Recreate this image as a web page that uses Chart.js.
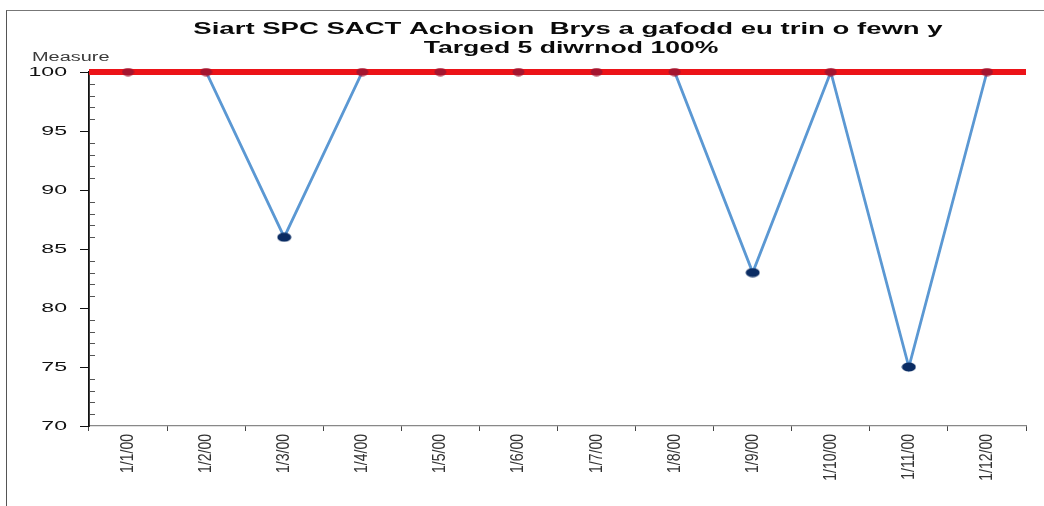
<!DOCTYPE html>
<html>
<head>
<meta charset="utf-8">
<script src="https://cdn.jsdelivr.net/npm/chart.js@4"></script>
<style>
  html, body { margin:0; padding:0; background:#fff; }
  #wrap { position:relative; width:1044px; height:506px; }
  #frame { position:absolute; left:6px; top:10px; right:0; bottom:0; border-left:1px solid #555; border-top:1px solid #777; pointer-events:none; }
  canvas { position:absolute; left:0; top:0; }
</style>
</head>
<body>
<div id="wrap">
  <canvas id="c" width="1044" height="506"></canvas>
  <div id="frame"></div>
</div>
<script>
const titleLines = ["Siart SPC SACT Achosion  Brys a gafodd eu trin o fewn y", "Targed 5 diwrnod 100%"];
const yAxisLabel = "Measure";
const categories = ["1/1/00","1/2/00","1/3/00","1/4/00","1/5/00","1/6/00","1/7/00","1/8/00","1/9/00","1/10/00","1/11/00","1/12/00"];
const measureValues = [100,100,86,100,100,100,100,100,83,100,75,100];
const targetValue = 100;
const yMin = 70, yMax = 100, yMajorStep = 5, yMinorStep = 1;

const FONT = '"Liberation Sans", Arial, Helvetica, sans-serif';

function ellipseMarker(color, w, h) {
  const c = document.createElement('canvas');
  c.width = w; c.height = h;
  const g = c.getContext('2d');
  g.fillStyle = color;
  g.beginPath();
  g.ellipse(w / 2, h / 2, w / 2 - 0.5, h / 2 - 0.5, 0, 0, Math.PI * 2);
  g.fill();
  return c;
}
const markerLow = ellipseMarker('#0b2c63', 15, 10);
const markerTarget = ellipseMarker('#a5152f', 13, 9);

// text in the reference is stretched horizontally; draw labels with a horizontal scale
function stretchedText(ctx, text, x, y, sx, align, baseline, rotate) {
  ctx.save();
  ctx.translate(x, y);
  ctx.scale(sx, 1);
  if (rotate) ctx.rotate(rotate);
  ctx.textAlign = align;
  ctx.textBaseline = baseline;
  ctx.fillText(text, 0, 0);
  ctx.restore();
}

const decorations = {
  id: 'decorations',
  afterDatasetsDraw(chart) {
    const y = chart.scales.y, x = chart.scales.x, ctx = chart.ctx;
    const x0 = chart.chartArea.left;
    ctx.save();
    // minor ticks inside plot
    ctx.strokeStyle = '#555';
    ctx.lineWidth = 1;
    for (let v = yMin; v <= yMax; v += yMinorStep) {
      if (v % yMajorStep === 0) continue;
      const py = Math.round(y.getPixelForValue(v)) + 0.5;
      ctx.beginPath(); ctx.moveTo(x0 + 1, py); ctx.lineTo(x0 + 6, py); ctx.stroke();
    }
    // title
    ctx.fillStyle = '#0a0a0a';
    ctx.font = 'bold 16px ' + FONT;
    stretchedText(ctx, titleLines[0], 568, 34, 1.72, 'center', 'alphabetic');
    stretchedText(ctx, titleLines[1], 571, 53, 1.66, 'center', 'alphabetic');
    // axis caption
    ctx.fillStyle = '#3a3a3a';
    ctx.font = '12px ' + FONT;
    stretchedText(ctx, yAxisLabel, 32, 61, 1.66, 'left', 'alphabetic');
    // y tick labels
    ctx.fillStyle = '#111';
    ctx.font = '13px ' + FONT;
    y.ticks.forEach(t => {
      stretchedText(ctx, String(t.value), 67, y.getPixelForValue(t.value) + 0.5, 1.78, 'right', 'middle');
    });
    // x tick labels (rotated)
    ctx.fillStyle = '#333';
    ctx.font = '14px ' + FONT;
    categories.forEach((lab, i) => {
      stretchedText(ctx, lab, x.getPixelForTick(i), 434, 1.3, 'right', 'middle', -Math.PI / 2);
    });
    ctx.restore();
  }
};

new Chart(document.getElementById('c'), {
  type: 'line',
  data: {
    labels: categories,
    datasets: [
      {
        data: measureValues,
        borderColor: '#5b98d3',
        borderWidth: 2.8,
        pointRadius: 0,
        tension: 0,
        clip: false,
        order: 3
      },
      {
        data: [{x: 0, y: targetValue}, {x: 1, y: targetValue}],
        xAxisID: 'x2',
        borderColor: '#ec1318',
        borderWidth: 6,
        borderCapStyle: 'butt',
        pointRadius: 0,
        clip: false,
        order: 2
      },
      {
        data: measureValues,
        showLine: false,
        pointStyle: ctx => (ctx.raw >= targetValue ? markerTarget : markerLow),
        pointRadius: 7,
        clip: false,
        order: 1
      }
    ]
  },
  options: {
    responsive: false,
    animation: false,
    devicePixelRatio: 1,
    layout: { padding: { left: 0, right: 18, top: 72, bottom: 0 } },
    plugins: {
      legend: { display: false },
      tooltip: { enabled: false },
      title: { display: false }
    },
    scales: {
      x: {
        type: 'category',
        offset: true,
        grid: { offset: true, drawOnChartArea: false, drawTicks: true, tickLength: 5, color: '#444', lineWidth: 1 },
        border: { display: true, color: '#888', width: 1.2 },
        ticks: {
          autoSkip: false, minRotation: 90, maxRotation: 90, padding: 5,
          color: 'rgba(0,0,0,0)',
          font: { family: FONT, size: 12 }
        },
        afterFit(s) { s.height = 80; }
      },
      x2: {
        type: 'linear', min: 0, max: 1, display: false
      },
      y: {
        type: 'linear', min: yMin, max: yMax,
        grid: { drawOnChartArea: false, drawTicks: true, tickLength: 9, color: '#111', lineWidth: 1 },
        border: { display: true, color: '#111', width: 1.8 },
        ticks: {
          stepSize: yMajorStep, padding: 13, color: 'rgba(0,0,0,0)',
          font: { family: FONT, size: 13 }
        },
        afterFit(s) { s.width = 89; }
      }
    }
  },
  plugins: [decorations]
});
</script>
</body>
</html>
